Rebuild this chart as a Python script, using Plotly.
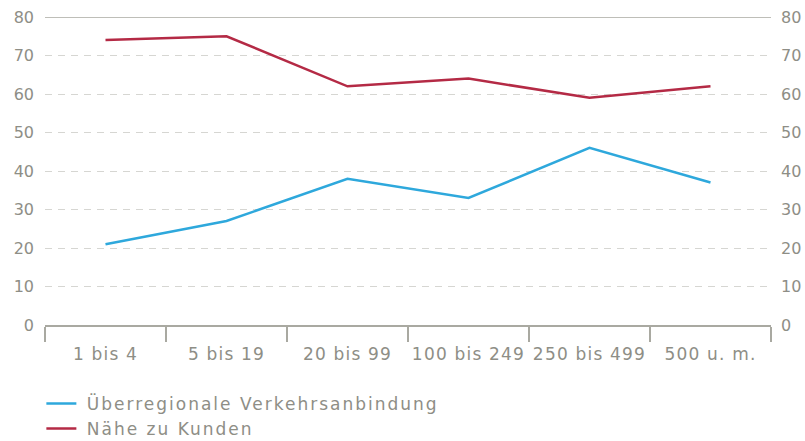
import plotly.graph_objects as go

categories = ["1 bis 4", "5 bis 19", "20 bis 99", "100 bis 249", "250 bis 499", "500 u. m."]
verkehr = [21, 27, 38, 33, 46, 37]
kunden = [74, 75, 62, 64, 59, 62]
y_ticks = [0, 10, 20, 30, 40, 50, 60, 70, 80]
series_names = ["Überregionale Verkehrsanbindung", "Nähe zu Kunden"]

GRAY_TXT = "#8e8e86"
AXIS = "#a9a9a1"
FONT = "DejaVu Sans"


def spaced(text, px, lead=""):
    return f'{lead}<span style="letter-spacing:{px}px">{text}</span>'


fig = go.Figure()
fig.add_trace(go.Scatter(x=categories, y=verkehr, mode="lines",
                         name=spaced(series_names[0], 2, "\u00a0"),
                         line=dict(color="#2ea8dc", width=2.5)))
fig.add_trace(go.Scatter(x=categories, y=kunden, mode="lines",
                         name=spaced(series_names[1], 2, "\u00a0"),
                         line=dict(color="#b42a45", width=2.5)))
# invisible trace for the right-hand axis
fig.add_trace(go.Scatter(x=categories, y=kunden, yaxis="y2", mode="lines", showlegend=False,
                         hoverinfo="skip", line=dict(width=0), opacity=0))

fig.update_layout(
    width=805, height=441,
    margin=dict(l=45, r=34, t=17, b=116, autoexpand=False),
    paper_bgcolor="white", plot_bgcolor="white",
    font=dict(family=FONT, size=16, color=GRAY_TXT),
    xaxis=dict(type="category", range=[-0.5, 5.5], tickson="boundaries", ticks="outside",
               tickvals=categories, ticktext=[spaced(c, 1.2) for c in categories], tickangle=0,
               ticklen=15, tickwidth=1.5, tickcolor=AXIS, showline=True, linecolor=AXIS, linewidth=1.5,
               showgrid=False, zeroline=False, automargin=False, ticklabelstandoff=13,
               tickfont=dict(size=17, color=GRAY_TXT)),
    yaxis=dict(range=[0, 80], tickvals=y_ticks, showgrid=True, gridcolor="#d6d6d2", griddash="7px,6px",
               gridwidth=1, zeroline=False, showline=False, ticks="", ticklabelstandoff=10,
               automargin=False, tickfont=dict(size=16, color=GRAY_TXT)),
    yaxis2=dict(range=[0, 80], tickvals=y_ticks, overlaying="y", side="right", showgrid=False,
                zeroline=False, showline=False, ticks="", ticklabelstandoff=9, automargin=False,
                tickfont=dict(size=16, color=GRAY_TXT)),
    legend=dict(x=-0.005, xanchor="left", yref="container", y=0.125, yanchor="top", orientation="v",
                font=dict(size=17, color=GRAY_TXT), bgcolor="rgba(0,0,0,0)", tracegroupgap=0,
                itemwidth=30),
    shapes=[dict(type="line", xref="paper", yref="y", x0=0, x1=1, y0=80, y1=80,
                 line=dict(color=AXIS, width=1.5), layer="below")],
    showlegend=True,
)

fig.write_html("out.html", config={"displayModeBar": False},
               post_script="document.body.style.margin='0';document.body.style.padding='0';")
